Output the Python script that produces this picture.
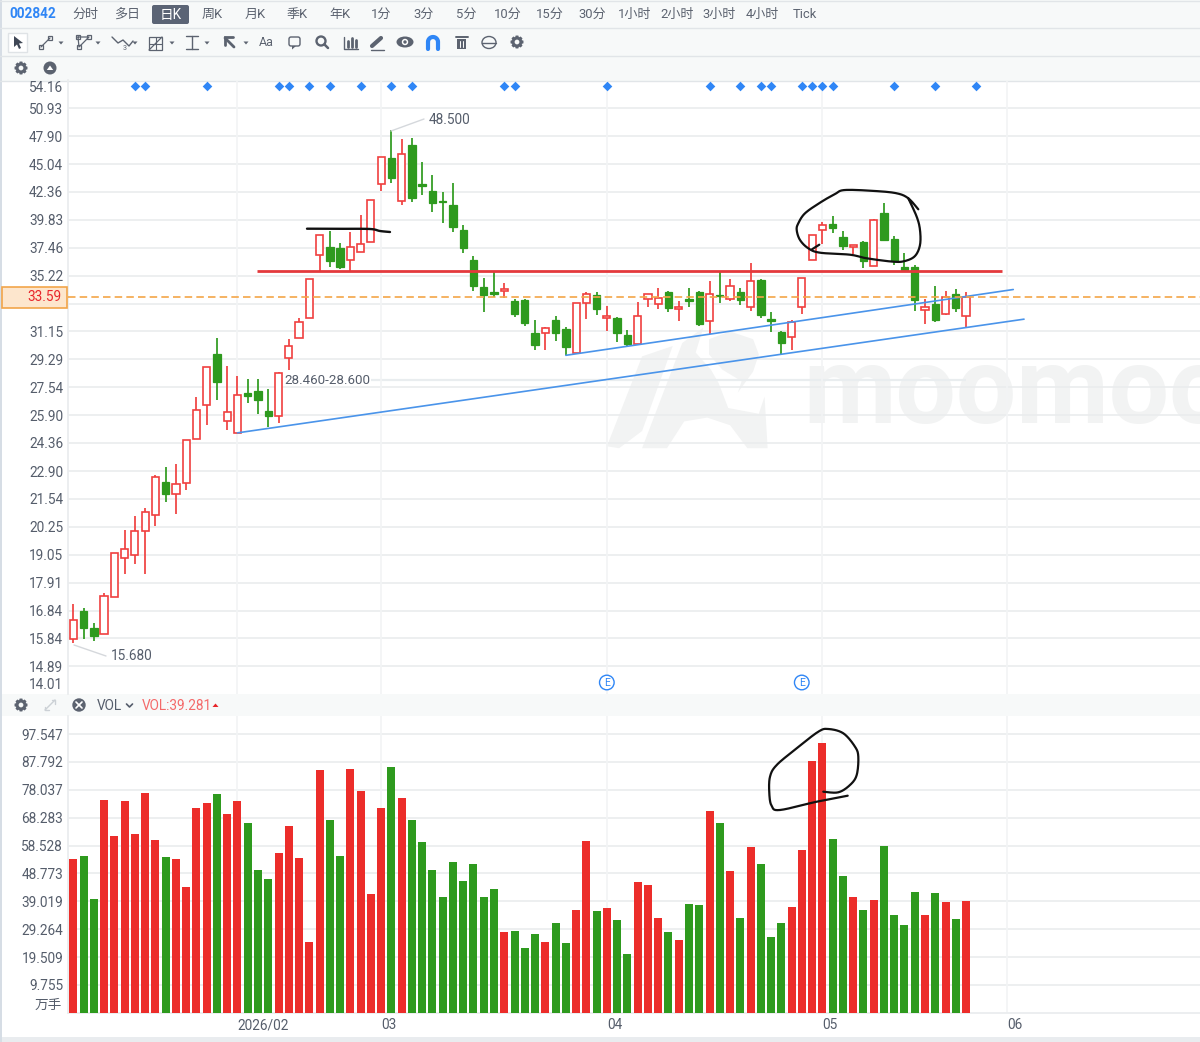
import numpy as np, pandas as pd, seaborn as sns
import matplotlib
matplotlib.use("Agg")
import matplotlib.pyplot as plt
from matplotlib.patches import Rectangle, Circle, Polygon, FancyBboxPatch, Ellipse

W, H = 1200, 1042
OPEN = [15.81,16.83,16.22,15.99,17.37,18.92,19.02,20.06,20.80,22.33,
        21.75,22.30,24.59,26.48,29.63,25.55,24.91,27.19,27.33,26.15,
        25.83,29.37,30.70,32.07,36.84,37.54,37.44,36.45,37.08,37.90,
        43.10,45.66,41.54,46.93,43.07,42.44,41.50,41.19,38.92,36.43,
        34.33,33.94,34.02,33.28,33.38,31.06,31.02,31.92,31.29,29.72,
        33.13,33.76,32.09,32.07,30.90,30.31,33.45,33.06,33.94,32.71,
        33.49,33.94,31.84,33.76,33.43,34.01,32.89,34.86,32.00,31.13,
        30.77,32.89,36.44,38.97,39.44,38.36,37.52,37.93,35.99,40.40,
        38.19,35.91,35.91,32.63,33.08,32.37,33.84,32.23]
CLOSE = [16.51,16.21,15.94,17.39,19.10,19.30,20.06,20.92,22.58,21.78,
         22.24,24.51,26.17,28.81,27.84,26.10,27.09,27.03,26.77,25.87,
         28.42,30.19,31.77,34.98,38.48,36.38,35.86,37.49,37.74,41.58,
         45.73,43.65,46.06,41.76,42.94,41.33,41.38,39.17,37.41,34.39,
         33.73,33.80,34.21,32.35,31.71,30.21,31.40,31.04,30.11,33.13,
         33.79,32.74,32.19,31.04,30.27,32.24,33.79,33.54,32.81,32.89,
         33.32,31.64,33.79,33.66,34.39,33.40,34.80,32.33,31.90,30.34,
         31.77,35.01,38.48,39.37,39.09,37.60,37.68,36.36,39.84,38.09,
         36.36,35.68,33.35,32.84,31.95,33.62,32.81,33.59]
HIGH = [17.10,16.95,16.38,17.52,19.10,20.10,20.76,21.12,22.68,23.08,
        23.25,24.51,26.93,28.81,30.70,28.86,28.21,28.02,28.02,27.41,
        28.46,30.63,32.05,34.98,38.48,38.85,37.82,38.76,40.22,41.58,
        45.73,48.50,47.56,47.67,45.27,43.95,42.35,43.19,39.35,36.80,
        35.03,35.50,34.62,33.43,33.45,31.93,31.43,32.24,31.45,33.13,
        33.94,34.01,32.96,32.14,31.25,33.21,33.86,34.30,34.03,33.30,
        34.30,34.03,34.80,35.50,34.96,34.30,36.25,34.94,32.49,31.16,
        31.93,35.01,38.48,39.61,40.17,38.83,37.71,38.01,39.87,41.31,
        38.40,37.00,36.09,33.43,34.46,34.03,34.21,33.94]
LOW = [15.68,15.83,15.75,15.99,17.37,18.27,18.65,18.27,20.31,21.39,
       20.81,21.97,24.59,25.33,26.79,25.06,24.91,26.58,25.98,25.23,
       25.47,28.60,30.70,32.07,35.55,35.91,35.75,35.55,37.08,37.90,
       42.47,43.23,41.15,41.42,42.07,40.54,39.58,38.79,37.03,34.06,
       32.50,33.60,33.54,32.16,31.54,29.90,29.90,30.50,29.55,29.72,
       32.02,32.27,31.18,30.41,30.15,30.31,32.89,32.73,32.48,31.87,
       32.89,31.54,31.00,33.13,33.33,33.03,32.56,32.05,31.09,29.66,
       29.90,32.35,36.44,37.76,38.70,37.30,36.96,35.83,35.94,38.03,
       36.07,35.66,32.58,31.64,31.78,32.32,32.48,31.45]
VOLUME = [53.8,55.0,39.8,74.4,61.9,74.1,62.7,77.0,60.3,54.5,
          53.8,44.1,71.5,73.4,76.7,69.7,74.2,66.4,49.8,46.7,
          55.9,65.3,54.3,24.8,84.9,67.5,54.8,85.2,77.7,41.5,
          71.6,85.9,75.2,67.6,59.9,50.0,40.5,52.7,46.2,52.0,
          40.6,43.3,28.4,28.7,22.6,27.6,24.6,31.4,24.3,35.8,
          60.0,35.7,36.5,32.4,20.6,45.6,44.7,33.3,28.4,25.3,
          37.9,37.8,70.6,66.4,49.6,33.2,58.1,52.0,26.5,31.3,
          37.0,56.9,88.0,94.3,60.7,47.8,40.6,35.8,39.3,58.3,
          34.1,30.6,42.1,34.1,42.0,38.9,32.8,39.281]
PRICE_TICKS = [54.16,50.93,47.90,45.04,42.36,39.83,37.46,35.22,33.12,31.15,29.29,27.54,
               25.90,24.36,22.90,21.54,20.25,19.05,17.91,16.84,15.84,14.89,14.01]
VOL_TICKS = [97.547,87.792,78.037,68.283,58.528,48.773,39.019,29.264,19.509,9.755]
MONTH_POS = [16,30,52,73,91]
MONTH_LABELS = ["2026/02","03","04","05","06"]
EVENT_IDX = [6,7,13,20,21,23,25,28,31,33,42,43,52,62,65,67,68,71,72,73,74,80,84,88]
EARNINGS_IDX = [52,71]
LAST_PRICE = 33.59
SUPPORT_PRICE = 35.56
SUPPORT_SPAN = [17.9,90.5]
TREND_A_X, TREND_A_Y = [16,92.65],[24.91,32.00]
TREND_B_X, TREND_B_Y = [48,91.6],[29.55,34.16]
RANGE_PRICE = 28.01
RANGE_SPAN = [29,87]

MENU_POS = [85,127,212,255,297,340,381,424,466,508,550,592,635,677,719,762,805]
MENU_TXT = ["分时","多日","周K","月K","季K","年K","1分","3分","5分","10分","15分","30分","1小时","2小时","3小时","4小时","Tick"]

# hand-drawn ink annotations on the screenshot (figure pixels)
INK_BAR = [(307,228.7),(340,228.8),(370,229),(380,231),(390,232)]
INK_PRICE = [(918.3,209.3),(908.3,198.3),(896.7,193.3),(875,191),(845,190),(835,194),(820,202.7),
             (805,213.3),(798.3,223.3),(796.7,230),(800,240),(808.3,248.3),(820,252.7),(850,254.7),
             (866.7,258.3),(893.3,261.7),(905,261),(915,256),(920,245),(920,230),(916.7,216.7),(908.3,198.3)]
INK_PRICE_TICK = [(819.3,244.7),(812,249.3)]
INK_VOL = [(847.7,795.7),(816.7,801.7),(780,810),(771.7,806),(769.3,793.3),(770,776.7),(776.7,765),
           (796.7,748.3),(818.3,731.7),(828.3,729),(843.3,733.3),(855,746.7),(858.3,756.7),(856.7,775),
           (850,785),(838.3,792.3),(823.3,791.7)]

sns.set_theme(style="white")
plt.rcParams["font.family"] = ["Roboto","Noto Sans CJK SC","DejaVu Sans"]
plt.rcParams["axes.unicode_minus"] = False
TXT = "#555d6b"; GRID = "#eaecee"; VGRID = "#f2f4f5"
RED = "#ec2d2a"; GRN = "#2e9a1e"; CRED = "#f0403f"

fig = plt.figure(figsize=(12,10.42), dpi=100, facecolor="white")
def pane(zo):
    a = fig.add_axes([0,0,1,1], zorder=zo); a.set_xlim(0,W); a.set_ylim(H,0); a.axis("off"); a.patch.set_alpha(0); return a
back = pane(0); front = pane(5)
def box(y0,y1,x0=68,x1=1200):
    return [x0/W, 1-y1/H, (x1-x0)/W, (y1-y0)/H]
ax = fig.add_axes(box(80.3,694.1), zorder=2); ax2 = fig.add_axes(box(716,1012.8), zorder=2)

# chrome bands
for y0,y1 in [(0,28),(28,56),(56,80.5),(693.5,716)]:
    back.add_patch(Rectangle((0,y0),W,y1-y0,fc="#f7f9f9",ec="none"))
for y in [1,28,56,80.5]:
    back.plot([0,W],[y,y],color="#e1e5e8",lw=1)
back.add_patch(Rectangle((0,1036.5),W,6,fc="#e9ecef",ec="none"))
back.add_patch(Rectangle((0,0),1.5,H,fc="#d6dde5",ec="none"))

# watermark
wm="#f2f3f3"
def zp(pts): return [(600+x/2.613,320+y/2.613) for x,y in pts]
back.add_patch(Polygon(zp([(18,330),(110,95),(190,68),(110,290),(50,335)]),fc=wm,ec="none"))
back.add_patch(Polygon(zp([(110,335),(215,60),(270,20),(250,85),(290,130),(310,165),(335,230),(415,245),(430,200),(438,335),(385,335),(340,275),(280,255),(220,265),(175,335)]),fc=wm,ec="none"))
back.add_patch(Polygon(zp([(285,50),(340,30),(400,50),(415,90),(400,135),(360,190),(370,160),(320,130),(285,90)]),fc=wm,ec="none"))
back.text(803,423,"moomoo",fontsize=77,fontweight="bold",color=wm,va="baseline",ha="left",clip_on=True)

# data table
x = np.arange(len(CLOSE))
df = pd.DataFrame(dict(x=x,open=OPEN,close=CLOSE,high=HIGH,low=LOW,vol=VOLUME))
df["dir"] = np.where(df.close>=df.open,"up","down")
up = df[df.dir=="up"]; dn = df[df.dir=="down"]
XLIM = (-0.517,109.8)

# price pane
ax.patch.set_alpha(0)
ax.set_yscale("log")
ax.vlines(up.x,up.low,up.high,color=CRED,lw=1.25,zorder=3)
ax.vlines(dn.x,dn.low,dn.high,color=GRN,lw=1.25,zorder=3)
ax.bar(up.x,(up.close-up.open).clip(lower=.06),bottom=up.open,width=.70,fc="white",ec=CRED,lw=1.2,zorder=4)
ax.bar(dn.x,(dn.open-dn.close).clip(lower=.06),bottom=dn.close,width=.72,fc=GRN,ec=GRN,lw=.9,zorder=4)
ax.hlines(SUPPORT_PRICE,*SUPPORT_SPAN,color="#e4393c",lw=2.0,zorder=5)
ax.hlines(RANGE_PRICE,*RANGE_SPAN,color="#e9edef",lw=1.6,zorder=1)
sns.lineplot(x=TREND_A_X,y=TREND_A_Y,ax=ax,color="#4a94ea",lw=1.2,zorder=5,errorbar=None)
sns.lineplot(x=TREND_B_X,y=TREND_B_Y,ax=ax,color="#4a94ea",lw=1.2,zorder=5,errorbar=None)
ax.axhline(LAST_PRICE,color="#f4a648",lw=1.2,dashes=(4.5,2.5),zorder=5)
sns.scatterplot(x=EVENT_IDX,y=[53.49]*len(EVENT_IDX),ax=ax,marker="D",s=24,color="#2f86f6",linewidth=0,zorder=6,clip_on=False)
ax.set_xlim(*XLIM); ax.set_ylim(14.01,54.16)
ax.minorticks_off()
# the top and bottom labels sit inside the pane and 33.12 lies under the last-price tag
hidden = {54.16,14.01,33.12}
ax.set_yticks(PRICE_TICKS); ax.set_yticklabels(["" if v in hidden else f"{v:.2f}" for v in PRICE_TICKS])
ax.yaxis.set_minor_locator(matplotlib.ticker.NullLocator())
ax.set_xticks(MONTH_POS); ax.set_xticklabels([])
ax.grid(False)
ax.hlines(PRICE_TICKS[1:-1],*XLIM,color=GRID,lw=1.2,zorder=1)
ax.vlines(MONTH_POS,14.01,54.16,color=VGRID,lw=1.2,zorder=1)
ax.tick_params(axis="both",length=0,pad=3.5,labelsize=9.8,labelcolor=TXT)
front.text(63,88,f"{PRICE_TICKS[0]:.2f}",ha="right",va="center",fontsize=9.8,color=TXT)
front.text(63,685,f"{PRICE_TICKS[-1]:.2f}",ha="right",va="center",fontsize=9.8,color=TXT)
for s in ["top","right","bottom"]: ax.spines[s].set_visible(False)
ax.spines["left"].set_color(GRID)

# volume pane
ax2.patch.set_alpha(0)
sns.barplot(data=df,x="x",y="vol",hue="dir",palette={"up":RED,"down":GRN},native_scale=True,dodge=False,
            width=.78,saturation=1,legend=False,ax=ax2,zorder=3,linewidth=0)
ax2.set_xlim(*XLIM); ax2.set_ylim(0,103.85)
ax2.set_xlabel(""); ax2.set_ylabel("")
ax2.set_yticks(VOL_TICKS); ax2.set_yticklabels([f"{v:.3f}" for v in VOL_TICKS])
ax2.set_xticks(MONTH_POS); ax2.set_xticklabels(MONTH_LABELS,ha="left")
ax2.grid(False)
ax2.hlines(VOL_TICKS,*XLIM,color=GRID,lw=1.2,zorder=1)
ax2.vlines(MONTH_POS,0,103.85,color=VGRID,lw=1.2,zorder=1)
ax2.tick_params(axis="both",length=0,labelsize=9.8,labelcolor=TXT)
ax2.tick_params(axis="y",pad=3.5); ax2.tick_params(axis="x",pad=4)
for s in ["top","right"]: ax2.spines[s].set_visible(False)
ax2.spines["left"].set_color(GRID); ax2.spines["bottom"].set_color(GRID)
front.text(62,1005,"万手",ha="right",va="center",fontsize=9.8,color=TXT)

# price annotations
front.plot([391,424],[131,119],color="#d5d8dc",lw=1)
front.text(429,120,"48.500",fontsize=9.8,color=TXT,va="center")
front.plot([74,106],[645,656],color="#d5d8dc",lw=1)
front.text(111,656,"15.680",fontsize=9.8,color=TXT,va="center")
front.text(284,381,"28.460-28.600",fontsize=9.6,color=TXT,va="center")
for i in EARNINGS_IDX:
    cx=73.3+10.26*i
    front.add_patch(Circle((cx,682.5),7.3,fc="white",ec="#2f86f6",lw=1))
    front.text(cx,682.5,"E",fontsize=7.5,color="#2f86f6",ha="center",va="center")
# last-price tag
front.add_patch(Rectangle((2,286.5),65,21,fc="#fde6cd",ec="#f2a54a",lw=1.2))
front.text(61,297,"33.59",ha="right",va="center",fontsize=9.8,color="#e8252a")

# hand ink
def smooth(pts,n=14):
    p=np.array(pts,float); p=np.vstack([p[0],p,p[-1]]); out=[]
    for i in range(1,len(p)-2):
        for t in np.linspace(0,1,n,endpoint=False):
            out.append(.5*((2*p[i])+(-p[i-1]+p[i+1])*t+(2*p[i-1]-5*p[i]+4*p[i+1]-p[i+2])*t*t+(-p[i-1]+3*p[i]-3*p[i+1]+p[i+2])*t**3))
    out.append(p[-2]); return np.array(out)
for s,lw in [(INK_BAR,1.7),(INK_PRICE,1.6),(INK_PRICE_TICK,1.6),(INK_VOL,1.6)]:
    c=smooth(s); front.plot(c[:,0],c[:,1],color="#111111",lw=lw,solid_capstyle="round",solid_joinstyle="round")

# menu row
front.text(33,14.5,"002842",fontsize=9.8,fontweight="bold",color="#2f86f6",ha="center",va="center")
for px,t in zip(MENU_POS,MENU_TXT):
    front.text(px,14.5,t,fontsize=9.4,color="#5c6370",ha="center",va="center")
front.add_patch(FancyBboxPatch((152,5),37,19,boxstyle="round,pad=0,rounding_size=2",fc="#5b6475",ec="none"))
front.text(170.5,14.5,"日K",fontsize=9.8,color="white",ha="center",va="center")

# drawing toolbar
IC="#5c6370"
def gear(cx,cy,r=6.6):
    ang=np.linspace(0,2*np.pi,8,endpoint=False)
    pts=[]
    for a in ang:
        for da,rr in [(-.42,.74),(-.2,1),(.2,1),(.42,.74)]:
            pts.append((cx+r*rr*np.cos(a+da),cy+r*rr*np.sin(a+da)))
    front.add_patch(Polygon(pts,fc=IC,ec="none"))
    front.add_patch(Circle((cx,cy),r*.36,fc="#f7f9f9",ec="none"))
front.add_patch(Rectangle((8,32.5),19,19,fc="white",ec="#dfe3e6",lw=1))
front.add_patch(Polygon([(14,36),(14,47),(17,44.5),(19,49),(21,48),(19,43.5),(23,43)],fc="#3f4755",ec="none"))
def sq(a,b,s=4):
    front.add_patch(Rectangle((a-s/2,b-s/2),s,s,fc="none",ec=IC,lw=.9))
front.plot([41,50],[47,38],color=IC,lw=.9); sq(41,47); sq(50,38)
front.plot([78,89,79,78],[37,37,47,37],color=IC,lw=.9); sq(78,37); sq(89,37); sq(79,47)
front.plot([112,118,123,129,133],[37,43,40,46,41],color=IC,lw=1)
front.text(125,48,"3",fontsize=5,color=IC,ha="center",va="center")
front.add_patch(Rectangle((149,37),13,13,fc="none",ec=IC,lw=.9))
front.plot([149,162],[50,37],color=IC,lw=.9); front.plot([149,162],[43.5,43.5],color=IC,lw=.8); front.plot([155.5,155.5],[37,50],color=IC,lw=.8)
front.plot([186,198],[36,36],color=IC,lw=1); front.plot([186,198],[49,49],color=IC,lw=1); front.plot([192,192],[36,49],color=IC,lw=1)
front.plot([234,225],[47,38],color=IC,lw=2); front.plot([233,225,225],[37,37,45],color=IC,lw=2,solid_joinstyle="miter")
for tx in [61,98,135,172,207,246]:
    front.add_patch(Polygon([(tx-2.5,41.5),(tx+2.5,41.5),(tx,44.5)],fc=IC,ec="none"))
front.text(266,42,"Aa",fontsize=9,color=IC,ha="center",va="center")
front.add_patch(FancyBboxPatch((289,37),11,9,boxstyle="round,pad=0,rounding_size=2",fc="none",ec=IC,lw=1))
front.add_patch(Polygon([(292,46),(296,46),(292,49.5)],fc=IC,ec="none"))
front.add_patch(Circle((321,41),4.5,fc="none",ec=IC,lw=1.7)); front.plot([324.5,328],[44.5,48],color=IC,lw=1.8)
front.plot([344,344,358],[37,49,49],color=IC,lw=1)
for b,t0,t1 in [(348,41,47),(352,38,47),(356,40,47)]: front.plot([b,b],[t0,t1],color=IC,lw=2)
front.plot([372,381],[46,38],color=IC,lw=3); front.plot([371,384],[49.5,49.5],color=IC,lw=1)
front.add_patch(Ellipse((405,42),17,11,fc=IC,ec="none")); front.add_patch(Circle((405,42),3.2,fc="white",ec="none")); front.add_patch(Circle((405,42),1.7,fc=IC,ec="none"))
th=np.linspace(np.pi,2*np.pi,20)
front.plot(433+5*np.cos(th),42+5*np.sin(th),color="#2f86f6",lw=3); front.plot([428,428],[42,49],color="#2f86f6",lw=3); front.plot([438,438],[42,49],color="#2f86f6",lw=3)
front.add_patch(Rectangle((457,38.5),9,10,fc=IC,ec="none")); front.plot([455.5,467.5],[36.5,36.5],color=IC,lw=1.4)
for tx in [459.8,463.2]: front.plot([tx,tx],[40.5,46.5],color="white",lw=.7)
front.add_patch(Ellipse((489,42.5),14,12,fc="none",ec=IC,lw=1)); front.plot([482,496],[42.5,42.5],color=IC,lw=1)
gear(517,42); gear(21,68)
front.add_patch(Circle((50,68),6.5,fc=IC,ec="none")); front.add_patch(Polygon([(46.8,70),(53.2,70),(50,65.5)],fc="white",ec="none"))
# VOL bar
gear(21,705)
front.plot([45,55],[710,700],color="#ccd1d6",lw=1)
front.plot([51.5,55,55],[700,700,703.5],color="#ccd1d6",lw=1); front.plot([45,45,48.5],[706.5,710,710],color="#ccd1d6",lw=1)
front.add_patch(Circle((79,705),6.7,fc=IC,ec="none"))
front.plot([76,82],[702,708],color="white",lw=1.2); front.plot([76,82],[708,702],color="white",lw=1.2)
front.text(96.5,705.5,"VOL",fontsize=9.8,color=TXT,va="center")
front.plot([126.5,129.5,132.5],[704,707,704],color=TXT,lw=1.2)
front.text(142,705.5,"VOL:39.281",fontsize=9.8,color="#f46a6a",va="center")
front.add_patch(Polygon([(212.5,707),(218.5,707),(215.5,703.5)],fc="#e8252a",ec="none"))

fig.savefig("out.png",dpi=100,facecolor="white")
